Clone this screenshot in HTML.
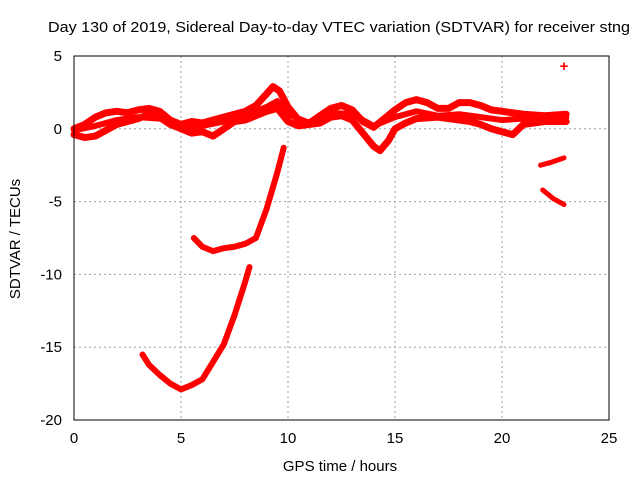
<!DOCTYPE html>
<html><head><meta charset="utf-8"><style>
body{margin:0;background:#fff}
svg text{font-family:"Liberation Sans",sans-serif;font-size:15px;fill:#000}
</style></head><body>
<svg id="chart" width="640" height="480" xmlns="http://www.w3.org/2000/svg">
<rect width="640" height="480" fill="#fff"/>
<text x="339" y="32" text-anchor="middle" textLength="582" lengthAdjust="spacingAndGlyphs">Day 130 of 2019, Sidereal Day-to-day VTEC variation (SDTVAR) for receiver stng</text>
<text x="340" y="471" text-anchor="middle">GPS time / hours</text>
<text x="0" y="0" transform="translate(20,239) rotate(-90)" text-anchor="middle">SDTVAR / TECUs</text>
<g id="grid"></g><g id="data"></g>
<rect x="74" y="56" width="535" height="364" fill="none" stroke="#000"/>
</svg>
<script>
const xTicks=[0,5,10,15,20,25];
const yTicks=[5,0,-5,-10,-15,-20];
const upperX=[0,0.5,1,1.5,2,2.5,3,3.5,4,4.5,5,5.5,6,6.5,7,7.5,8,8.5,9,9.3,9.6,10,10.5,11,11.5,12,12.5,13,13.5,14,14.5,15,15.5,16,16.5,17,17.5,18,18.5,19,19.5,20,21,22,23];
const upperY=[0,0.3,0.8,1.1,1.2,1.1,1.3,1.4,1.2,0.6,0.3,0.5,0.4,0.6,0.8,1.0,1.2,1.6,2.4,2.9,2.6,1.5,0.6,0.4,0.9,1.4,1.6,1.3,0.5,0.1,0.7,1.3,1.8,2.0,1.8,1.4,1.4,1.8,1.8,1.6,1.3,1.2,1.0,0.9,1.0];
const midX=[0,1,2,3,4,5,6,7,8,9,9.5,10,11,12,13,14,15,16,17,18,19,20,21,22,23];
const midY=[-0.1,0.2,0.6,0.8,0.7,0.1,0.2,0.5,0.9,1.5,1.9,1.0,0.4,1.1,1.0,0.2,0.8,1.2,0.9,1.0,0.8,0.6,0.7,0.6,0.8];
const lowerX=[0,0.5,1,1.5,2,2.5,3,3.5,4,4.5,5,5.5,6,6.5,7,7.5,8,8.5,9,9.5,10,10.5,11,11.5,12,12.5,13,13.5,14,14.3,14.7,15,15.5,16,17,18,18.5,19,19.5,20,20.5,21,22,23];
const lowerY=[-0.4,-0.6,-0.5,-0.1,0.3,0.5,0.7,1.0,0.8,0.3,0,-0.3,-0.2,-0.5,0,0.5,0.6,0.9,1.2,1.4,0.5,0.2,0.3,0.4,0.8,0.9,0.6,-0.3,-1.2,-1.5,-0.8,0,0.4,0.7,0.8,0.6,0.5,0.3,0,-0.2,-0.4,0.3,0.5,0.5];
const arcDX=[5.6,6,6.5,7,7.5,8,8.5,9,9.5,9.8];
const arcDY=[-7.5,-8.1,-8.4,-8.2,-8.1,-7.9,-7.5,-5.5,-3,-1.3];
const arcEX=[3.2,3.5,4,4.5,5,5.5,6,6.5,7,7.5,8,8.2];
const arcEY=[-15.5,-16.2,-16.9,-17.5,-17.9,-17.6,-17.2,-16,-14.8,-12.8,-10.5,-9.5];
const tailFX=[21.8,22.3,22.9];
const tailFY=[-2.5,-2.3,-2.0];
const tailGX=[21.9,22.4,22.9];
const tailGY=[-4.2,-4.8,-5.2];
const outX=[22.9];
const outY=[4.3];
const sx=v=>74+v*535/25, sy=v=>56+(5-v)*364/25;
const NS="http://www.w3.org/2000/svg";
const svg=document.getElementById('chart'),grid=document.getElementById('grid'),data=document.getElementById('data');
xTicks.forEach(t=>{
 const x=sx(t);
 if(t>0&&t<25){const l=document.createElementNS(NS,'line');
 
 
 l.setAttribute('x1',x);l.setAttribute('x2',x);l.setAttribute('y1',56);l.setAttribute('y2',420);l.setAttribute('stroke','#a0a0a0');l.setAttribute('stroke-dasharray','2,3');grid.appendChild(l);}
 const tx=document.createElementNS(NS,'text');
 
 
 tx.setAttribute('x',x);tx.setAttribute('y',443);tx.setAttribute('text-anchor','middle');tx.textContent=t;svg.appendChild(tx);
});
yTicks.forEach(t=>{
 const y=sy(t);
 if(t<5&&t>-20){const l=document.createElementNS(NS,'line');
 
 
 l.setAttribute('x1',74);l.setAttribute('x2',609);l.setAttribute('y1',y);l.setAttribute('y2',y);l.setAttribute('stroke','#a0a0a0');l.setAttribute('stroke-dasharray','2,3');grid.appendChild(l);}
 const tx=document.createElementNS(NS,'text');
 
 
 tx.setAttribute('x',62);tx.setAttribute('y',y+5);tx.setAttribute('text-anchor','end');tx.textContent=t;svg.appendChild(tx);
});
function series(xs,ys,name,w){
 const p=document.createElementNS(NS,'polyline');
 
 
 p.setAttribute('points',xs.map((x,i)=>sx(x)+','+sy(ys[i])).join(' '));
 p.setAttribute('fill','none');p.setAttribute('stroke','#ff0000');p.setAttribute('stroke-width',w);
 p.setAttribute('stroke-linejoin','round');p.setAttribute('stroke-linecap','round');
 data.appendChild(p);
}
series(upperX,upperY,'series-upper',7);
series(midX,midY,'series-middle',6);
series(lowerX,lowerY,'series-lower',7);
series(arcDX,arcDY,'series-arc-d',6);
series(arcEX,arcEY,'series-arc-e',6);
series(tailFX,tailFY,'series-tail-f',5);
series(tailGX,tailGY,'series-tail-g',5);
outX.forEach((x,i)=>{
 const t=document.createElementNS(NS,'text');
 
 
 t.setAttribute('x',sx(x));t.setAttribute('y',sy(outY[i])+5);t.setAttribute('text-anchor','middle');t.setAttribute('style','fill:#ff0000;font-size:15px;font-weight:bold');t.textContent='+';data.appendChild(t);
});
</script>
</body></html>
